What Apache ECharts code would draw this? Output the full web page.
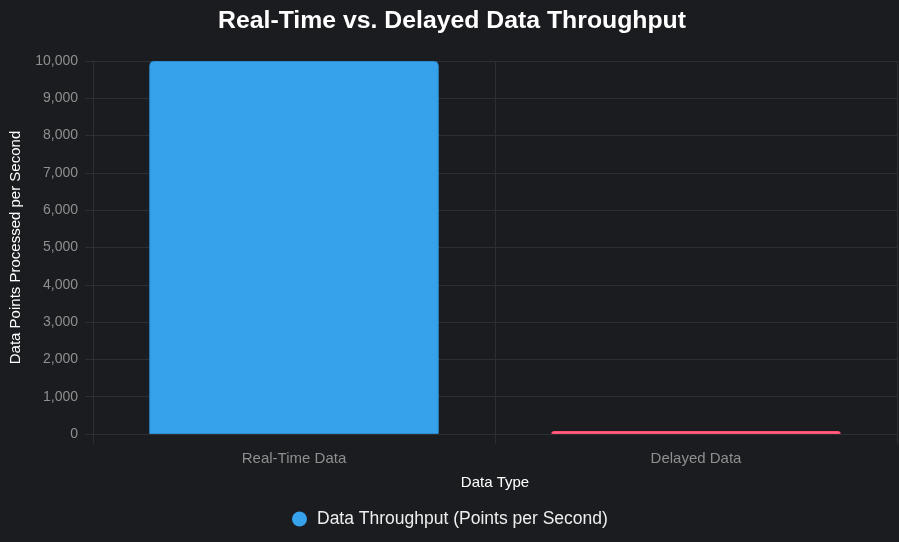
<!DOCTYPE html>
<html>
<head>
<meta charset="utf-8">
<script src="https://cdn.jsdelivr.net/npm/echarts@6/dist/echarts.min.js"></script>
<style>
html,body{margin:0;padding:0;background:#1b1c20;}
#c{width:899px;height:542px;}
</style>
</head>
<body>
<div id="c"></div>
<script>
const categories = ["Real-Time Data", "Delayed Data"];
const throughput = [10000, 80];
const barColors = ["#36a2eb", "#ff6384"];
const barBorders = ["#2d8fd1", "#ff4d6f"];
const seriesName = "Data Throughput (Points per Second)";

const chart = echarts.init(document.getElementById('c'));
const font = '"Liberation Sans", Arial, sans-serif';
chart.setOption({
  backgroundColor: '#1b1c20',
  animation: false,
  textStyle: {fontFamily: font},
  title: {
    text: 'Real-Time vs. Delayed Data Throughput',
    left: 213, top: 4,
    textStyle: {color: '#ffffff', fontSize: 24.8, fontWeight: 'bold', fontFamily: font}
  },
  legend: {
    bottom: 9, left: 287,
    icon: 'circle', itemWidth: 15, itemHeight: 15, itemGap: 10,
    textStyle: {color: '#eeeeee', fontSize: 17.5, fontFamily: font, padding: [0, 0, 0, 5]},
    data: [{name: seriesName, itemStyle: {color: barColors[0]}}]
  },
  grid: {left: 90, right: 2, top: 61, bottom: 108, containLabel: false},
  xAxis: {
    type: 'category', data: categories,
    name: 'Data Type', nameLocation: 'middle', nameGap: 41,
    nameTextStyle: {color: '#ffffff', fontSize: 15, fontFamily: font},
    axisLine: {show: true, lineStyle: {color: '#2e2f34'}},
    axisTick: {show: true, length: 10, lineStyle: {color: '#2e2f34'}},
    axisLabel: {color: '#8f8f8f', fontSize: 15, margin: 17, fontFamily: font},
    splitLine: {show: true, lineStyle: {color: '#2e2f34'}}
  },
  yAxis: {
    type: 'value', min: 0, max: 10000, interval: 1000,
    name: 'Data Points Processed per Second', nameLocation: 'middle', nameGap: 70,
    nameTextStyle: {color: '#ffffff', fontSize: 15, fontFamily: font},
    axisLine: {show: true, lineStyle: {color: '#2e2f34'}},
    axisTick: {show: true, length: 8, lineStyle: {color: '#2e2f34'}},
    axisLabel: {color: '#8f8f8f', fontSize: 14, margin: 15, fontFamily: font,
      formatter: v => v.toLocaleString('en-US')},
    splitLine: {show: true, lineStyle: {color: '#2e2f34'}}
  },
  series: [{
    name: seriesName, type: 'bar', barWidth: '72%',
    data: throughput.map((v, i) => ({
      value: v,
      itemStyle: {color: barColors[i], borderColor: barBorders[i], borderWidth: 1, borderRadius: [4,4,0,0]}
    })),
    itemStyle: {color: barColors[0]}
  }]
});
</script>
</body>
</html>
